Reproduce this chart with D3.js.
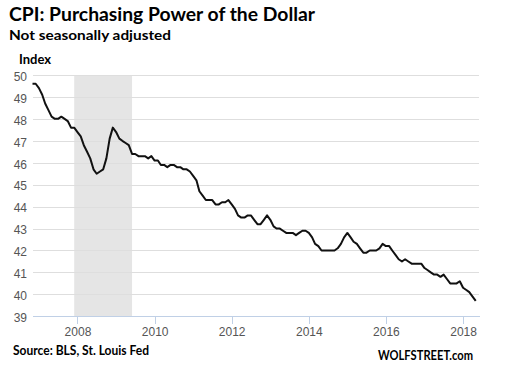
<!DOCTYPE html>
<html>
<head>
<meta charset="utf-8">
<script src="https://cdn.jsdelivr.net/npm/d3@7"></script>
<style>
  html, body { margin: 0; padding: 0; background: #fff; }
  svg { display: block; }
</style>
</head>
<body>
<svg id="chart" width="516" height="369"></svg>
<script>
// ---- Data ----
const titleText = "CPI: Purchasing Power of the Dollar";
const subtitleText = "Not seasonally adjusted";
const yAxisTitle = "Index";
const sourceText = "Source: BLS, St. Louis Fed";
const brandText = "WOLFSTREET.com";

const firstMonth = "2006-11"; // first observation (monthly series)
const values = [
  49.6, 49.6,                                                             // 2006 Nov-Dec
  49.4, 49.1, 48.7, 48.4, 48.1, 48.0, 48.0, 48.1, 48.0, 47.9, 47.6, 47.6, // 2007
  47.4, 47.2, 46.8, 46.5, 46.2, 45.7, 45.5, 45.6, 45.7, 46.2, 47.1, 47.6, // 2008
  47.4, 47.1, 47.0, 46.9, 46.8, 46.4, 46.4, 46.3, 46.3, 46.3, 46.2, 46.3, // 2009
  46.1, 46.1, 45.9, 45.9, 45.8, 45.9, 45.9, 45.8, 45.8, 45.7, 45.7, 45.6, // 2010
  45.4, 45.2, 44.7, 44.5, 44.3, 44.3, 44.3, 44.1, 44.1, 44.2, 44.2, 44.3, // 2011
  44.1, 43.9, 43.6, 43.5, 43.5, 43.6, 43.6, 43.4, 43.2, 43.2, 43.4, 43.6, // 2012
  43.4, 43.1, 43.0, 43.0, 42.9, 42.8, 42.8, 42.8, 42.7, 42.8, 42.9, 42.9, // 2013
  42.8, 42.6, 42.3, 42.2, 42.0, 42.0, 42.0, 42.0, 42.0, 42.1, 42.3, 42.6, // 2014
  42.8, 42.6, 42.4, 42.3, 42.1, 41.9, 41.9, 42.0, 42.0, 42.0, 42.1, 42.3, // 2015
  42.2, 42.2, 42.0, 41.8, 41.6, 41.5, 41.6, 41.5, 41.4, 41.4, 41.4, 41.4, // 2016
  41.2, 41.1, 41.0, 40.9, 40.9, 40.8, 40.9, 40.7, 40.5, 40.5, 40.5, 40.6, // 2017
  40.3, 40.2, 40.1, 39.9, 39.7                                            // 2018 Jan-May
];
const recession = ["2007-12", "2009-06"];
const xTickYears = [2008, 2010, 2012, 2014, 2016, 2018];
const yTicks = [39, 40, 41, 42, 43, 44, 45, 46, 47, 48, 49, 50];
const xDomain = ["2006-11", "2018-06"];
const yDomain = [39, 50];

// ---- Build ----
const parseMonth = d3.timeParse("%Y-%m");
const start = parseMonth(firstMonth);
const series = values.map((v, i) => ({ date: d3.timeMonth.offset(start, i), value: v }));

const svg = d3.select("#chart");
const x = d3.scaleTime().domain(xDomain.map(parseMonth)).range([32.5, 479]);
const y = d3.scaleLinear().domain(yDomain).range([316.3, 75]);

const labelFont = "'Liberation Sans', Arial, sans-serif";
const titleFont = "Lato, 'Open Sans', sans-serif";

// recession shading
svg.append("rect")
  .attr("x", x(parseMonth(recession[0])))
  .attr("width", x(parseMonth(recession[1])) - x(parseMonth(recession[0])))
  .attr("y", y(yDomain[1]))
  .attr("height", y(yDomain[0]) - y(yDomain[1]))
  .attr("fill", "#e5e5e5");

// horizontal grid + y labels
const yAxis = d3.axisLeft(y).tickValues(yTicks).tickSize(-(479 - 32.5)).tickFormat(d3.format("d"));
const gy = svg.append("g").attr("transform", "translate(32.5,0)").call(yAxis);
gy.select(".domain").remove();
gy.selectAll(".tick line").attr("stroke", "#dedede").attr("stroke-width", 1)
  .attr("shape-rendering", "crispEdges");
gy.selectAll(".tick").filter(d => d === yDomain[0]).select("line").remove();
gy.selectAll(".tick text")
  .attr("x", -5.5).attr("dy", null).attr("y", 5.3)
  .attr("fill", "#555").attr("font-family", labelFont).attr("font-size", 12);

// x axis
const xAxis = d3.axisBottom(x)
  .tickValues(xTickYears.map(yr => new Date(yr, 0, 1)))
  .tickSize(8).tickSizeOuter(0)
  .tickFormat(d3.timeFormat("%Y"));
const gx = svg.append("g").attr("transform", `translate(0,${y(yDomain[0])})`).call(xAxis);
gx.select(".domain").attr("stroke", "#c0d0e6").attr("shape-rendering", "crispEdges");
gx.selectAll(".tick line").attr("stroke", "#c0d0e6").attr("shape-rendering", "crispEdges");
gx.selectAll(".tick text")
  .attr("y", 19.5).attr("dy", null)
  .attr("fill", "#555").attr("font-family", labelFont).attr("font-size", 12);

// line
const line = d3.line().x(d => x(d.date)).y(d => y(d.value)).curve(d3.curveLinear);
svg.append("path")
  .datum(series)
  .attr("d", line)
  .attr("fill", "none")
  .attr("stroke", "#111")
  .attr("stroke-width", 2)
  .attr("stroke-linejoin", "round");

// texts
function addText(txt, xp, yp, size, width) {
  const t = svg.append("text")
    .attr("x", xp).attr("y", yp)
    .attr("font-family", titleFont).attr("font-weight", "bold")
    .attr("font-size", size).attr("fill", "#000")
    .text(txt);
  const w = t.node().getComputedTextLength();
  if (Math.abs(w - width) > 2) {
    t.attr("textLength", width).attr("lengthAdjust", "spacingAndGlyphs");
  }
  return t;
}
addText(titleText, 9, 20.8, 18.5, 306);
addText(subtitleText, 9, 39.5, 13, 162);
addText(yAxisTitle, 19, 64, 13, 34);
addText(sourceText, 13, 355, 12.5, 136);
addText(brandText, 378, 360, 12.5, 95);
</script>
</body>
</html>
